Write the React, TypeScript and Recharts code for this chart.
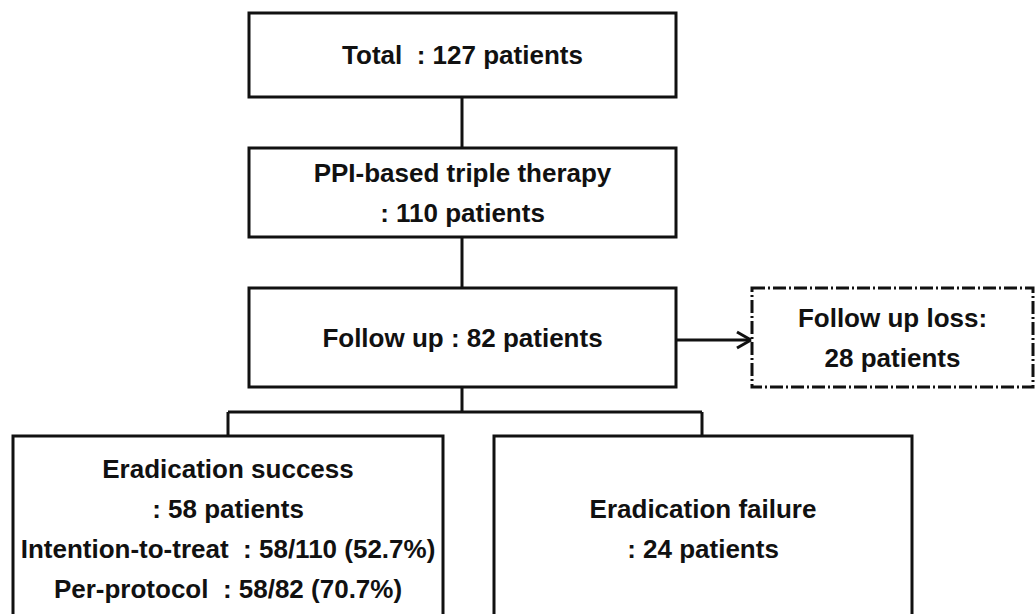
import React from 'react'
import {
  ScatterChart, Scatter, XAxis, YAxis, ReferenceArea, ReferenceLine,
} from 'recharts'

// box contents, top to bottom
const totalText = ['Total  : 127 patients']
const therapyText = ['PPI-based triple therapy', ': 110 patients']
const followUpText = ['Follow up : 82 patients']
const lossText = ['Follow up loss:', '28 patients']
const successText = [
  'Eradication success',
  ': 58 patients',
  'Intention-to-treat  : 58/110 (52.7%)',
  'Per-protocol  : 58/82 (70.7%)',
]
const failureText = ['Eradication failure', ': 24 patients']

// layout (pixel space of the 1035x614 canvas)
const W = 1035
const H = 614
const LINE_GAP = 40

const boxLayout = [
  { x1: 249, x2: 676, y1: 13, y2: 97, dashed: false },
  { x1: 249, x2: 676, y1: 148, y2: 237, dashed: false },
  { x1: 249, x2: 676, y1: 288, y2: 387, dashed: false },
  { x1: 752, x2: 1033, y1: 288, y2: 387, dashed: true },
  { x1: 13, x2: 443, y1: 436, y2: 622, dashed: false },
  { x1: 494, x2: 912, y1: 436, y2: 622, dashed: false },
]
const boxTexts = [totalText, therapyText, followUpText, lossText, successText, failureText]

const connectors = [
  [[462, 97], [462, 148]],
  [[462, 237], [462, 288]],
  [[462, 387], [462, 412]],
  [[228, 412], [702, 412]],
  [[228, 412], [228, 436]],
  [[702, 412], [702, 436]],
  [[676, 340], [751, 340]],
  [[751, 340], [737, 332]],
  [[751, 340], [737, 348]],
]

const textRows = boxLayout.flatMap((b, i) => {
  const lines = boxTexts[i]
  const cx = (b.x1 + b.x2) / 2
  const cy = (b.y1 + b.y2) / 2
  return lines.map((label, j) => ({
    x: cx,
    y: cy + (j - (lines.length - 1) / 2) * LINE_GAP,
    label,
  }))
})

const TextMark = (props: any) => (
  <text
    x={props.cx}
    y={props.cy}
    dy={9}
    textAnchor="middle"
    fontFamily="'Liberation Sans', Arial, sans-serif"
    fontWeight="bold"
    fontSize={26}
    fill="#111"
    style={{ whiteSpace: 'pre' }}
  >
    {props.payload.label}
  </text>
)

export default function App() {
  return (
    <div style={{ position: 'absolute', left: 0, top: 0, background: '#fff' }}>
      <ScatterChart width={W} height={H} margin={{ top: 0, right: 0, bottom: 0, left: 0 }}>
        <XAxis type="number" dataKey="x" domain={[0, W]} hide />
        <YAxis type="number" dataKey="y" domain={[0, H]} reversed hide />
        {connectors.map((c, i) => (
          <ReferenceLine
            key={'c' + i}
            segment={[{ x: c[0][0], y: c[0][1] }, { x: c[1][0], y: c[1][1] }]}
            stroke="#111"
            strokeWidth={3}
            ifOverflow="visible"
          />
        ))}
        {boxLayout.map((b, i) => (
          <ReferenceArea
            key={'b' + i}
            x1={b.x1}
            x2={b.x2}
            y1={b.y1}
            y2={b.y2}
            fill="#fff"
            fillOpacity={1}
            stroke="#111"
            strokeWidth={3}
            strokeDasharray={b.dashed ? '13 3 2 3' : undefined}
            ifOverflow="visible"
          />
        ))}
        <Scatter data={textRows} shape={TextMark} isAnimationActive={false} />
      </ScatterChart>
    </div>
  )
}
